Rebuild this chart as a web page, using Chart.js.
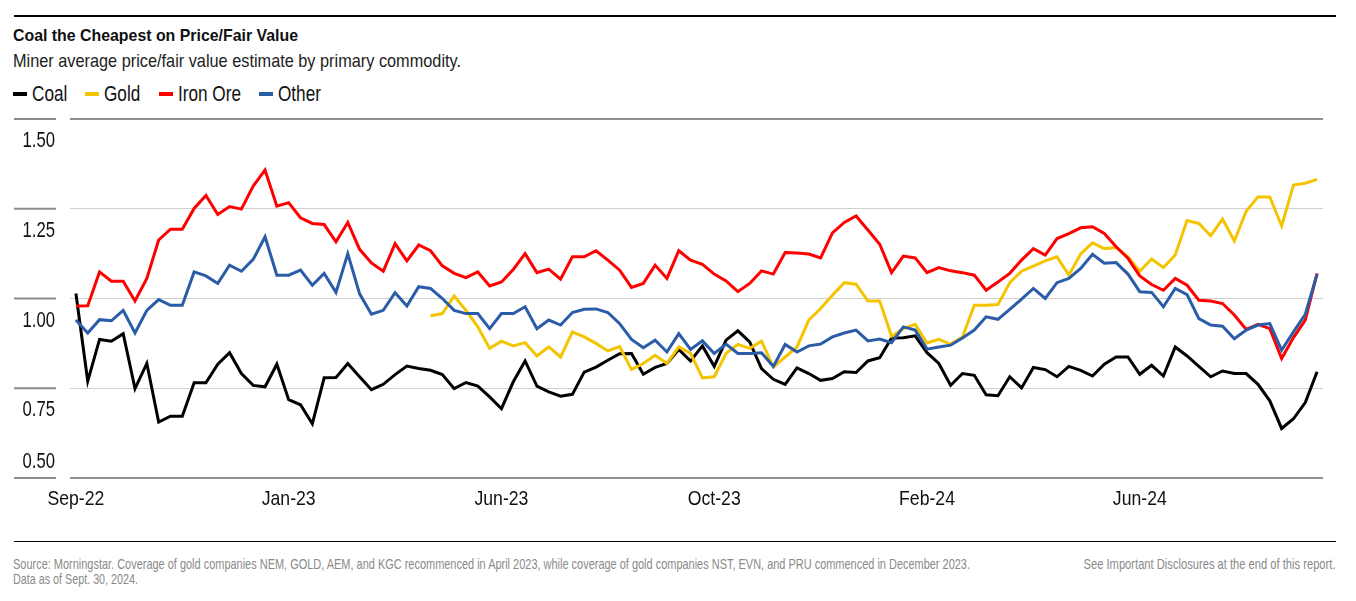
<!DOCTYPE html>
<html>
<head>
<meta charset="utf-8">
<script src="https://cdn.jsdelivr.net/npm/chart.js@4.4.1/dist/chart.umd.min.js"></script>
<style>
  body { margin: 0; background: #fff; width: 1356px; height: 601px; position: relative; overflow: hidden;
         font-family: "Liberation Sans", Arial, sans-serif; color: #111; }
  .rule { position: absolute; left: 14px; width: 1322px; background: #000; }
  .txt { position: absolute; white-space: nowrap; display: inline-block; transform-origin: 0 50%; }
  #title { left: 13px; top: 27px; font-size: 17.3px; line-height: 17.3px; font-weight: bold; }
  #subtitle { left: 13px; top: 53px; font-size: 17.7px; line-height: 17.7px; color: #222; }
  .legendText { top: 83px; font-size: 22px; line-height: 22px; }
  .swatch { position: absolute; top: 92px; width: 14px; height: 4px; }
  #chartBox { position: absolute; left: 0; top: 100px; }
  .foot { font-size: 15px; line-height: 15px; color: #8a8a8a; }
</style>
</head>
<body>
<div class="rule" style="top:15px;height:2px"></div>
<div class="txt" id="title">Coal the Cheapest on Price/Fair Value</div>
<div class="txt" id="subtitle">Miner average price/fair value estimate by primary commodity.</div>
<div id="legend"></div>
<div id="chartBox"><canvas id="chart" width="1356" height="420"></canvas></div>
<div class="rule" style="top:541px;height:1px"></div>
<div class="txt foot" id="foot1" style="left:13px;top:556px">Source: Morningstar. Coverage of gold companies NEM, GOLD, AEM, and KGC recommenced in April 2023, while coverage of gold companies NST, EVN, and PRU commenced in December 2023.</div>
<div class="txt foot" id="foot2" style="left:13px;top:571px">Data as of Sept. 30, 2024.</div>
<div class="txt foot" id="foot3" style="top:556px">See Important Disclosures at the end of this report.</div>

<script>
// weekly readings, Sep-22 .. Sep-24 (106 weeks)
const coal = [
  1.014, 0.770, 0.886, 0.881, 0.902, 0.749, 0.819, 0.656, 0.672, 0.672,
  0.765, 0.765, 0.817, 0.849, 0.791, 0.758, 0.754, 0.817, 0.718, 0.704,
  0.651, 0.779, 0.780, 0.819, 0.782, 0.746, 0.761, 0.788, 0.812, 0.805,
  0.800, 0.788, 0.749, 0.766, 0.756, 0.726, 0.693, 0.768, 0.826, 0.756,
  0.740, 0.728, 0.733, 0.795, 0.809, 0.828, 0.846, 0.847, 0.789, 0.808,
  0.819, 0.858, 0.826, 0.868, 0.811, 0.884, 0.910, 0.879, 0.805, 0.775,
  0.761, 0.807, 0.791, 0.772, 0.777, 0.796, 0.794, 0.826, 0.835, 0.890,
  0.891, 0.896, 0.849, 0.819, 0.758, 0.791, 0.786, 0.732, 0.729, 0.782,
  0.751, 0.808, 0.802, 0.782, 0.811, 0.800, 0.784, 0.817, 0.837, 0.837,
  0.789, 0.814, 0.784, 0.865, 0.840, 0.811, 0.782, 0.798, 0.791, 0.791,
  0.761, 0.715, 0.638, 0.665, 0.710, 0.796
];
const gold = [
  null, null, null, null, null, null, null, null, null, null,
  null, null, null, null, null, null, null, null, null, null,
  null, null, null, null, null, null, null, null, null, null,
  0.952, 0.958, 1.007, 0.967, 0.921, 0.861, 0.881, 0.868, 0.877, 0.840,
  0.865, 0.837, 0.907, 0.893, 0.875, 0.854, 0.866, 0.802, 0.819, 0.842,
  0.819, 0.865, 0.847, 0.779, 0.782, 0.847, 0.872, 0.861, 0.881, 0.809,
  0.837, 0.865, 0.940, 0.972, 1.009, 1.044, 1.040, 0.993, 0.993, 0.895,
  0.916, 0.928, 0.876, 0.886, 0.873, 0.893, 0.981, 0.981, 0.983, 1.044,
  1.076, 1.090, 1.105, 1.116, 1.065, 1.124, 1.155, 1.139, 1.142, 1.116,
  1.076, 1.110, 1.086, 1.121, 1.217, 1.209, 1.175, 1.221, 1.160, 1.243,
  1.283, 1.283, 1.202, 1.316, 1.321, 1.332
];
const ironOre = [
  0.979, 0.980, 1.074, 1.048, 1.048, 0.993, 1.056, 1.163, 1.193, 1.193,
  1.251, 1.287, 1.234, 1.256, 1.249, 1.313, 1.358, 1.257, 1.267, 1.225,
  1.209, 1.206, 1.158, 1.212, 1.137, 1.099, 1.076, 1.153, 1.105, 1.149,
  1.133, 1.091, 1.070, 1.058, 1.074, 1.035, 1.046, 1.081, 1.125, 1.072,
  1.082, 1.054, 1.116, 1.116, 1.133, 1.107, 1.079, 1.031, 1.042, 1.093,
  1.056, 1.133, 1.107, 1.095, 1.068, 1.049, 1.019, 1.042, 1.077, 1.068,
  1.128, 1.127, 1.124, 1.113, 1.183, 1.212, 1.230, 1.191, 1.151, 1.072,
  1.118, 1.113, 1.072, 1.086, 1.077, 1.072, 1.065, 1.023, 1.046, 1.070,
  1.107, 1.139, 1.121, 1.167, 1.181, 1.197, 1.200, 1.181, 1.144, 1.112,
  1.063, 1.039, 1.023, 1.056, 1.037, 0.995, 0.993, 0.986, 0.954, 0.914,
  0.928, 0.916, 0.833, 0.891, 0.940, 1.070
];
const other = [
  0.940, 0.904, 0.941, 0.938, 0.967, 0.904, 0.967, 0.997, 0.981, 0.981,
  1.074, 1.063, 1.042, 1.093, 1.076, 1.109, 1.172, 1.065, 1.065, 1.079,
  1.037, 1.070, 1.017, 1.125, 1.013, 0.956, 0.967, 1.016, 0.979, 1.033,
  1.028, 1.000, 0.967, 0.958, 0.958, 0.916, 0.958, 0.958, 0.977, 0.916,
  0.940, 0.926, 0.961, 0.970, 0.971, 0.961, 0.930, 0.886, 0.863, 0.884,
  0.851, 0.902, 0.858, 0.882, 0.847, 0.873, 0.847, 0.847, 0.849, 0.811,
  0.872, 0.851, 0.868, 0.873, 0.893, 0.904, 0.912, 0.882, 0.887, 0.877,
  0.921, 0.912, 0.859, 0.865, 0.870, 0.890, 0.912, 0.949, 0.942, 0.970,
  0.998, 1.028, 1.000, 1.044, 1.056, 1.084, 1.123, 1.098, 1.100, 1.068,
  1.019, 1.017, 0.977, 1.028, 1.011, 0.944, 0.926, 0.923, 0.888, 0.912,
  0.926, 0.930, 0.856, 0.907, 0.956, 1.068
];

const seriesNames = ["Coal", "Gold", "Iron Ore", "Other"];
const seriesColors = ["#000000", "#f5c400", "#ff0000", "#2a5ca8"];
const xTickLabels = ["Sep-22", "Jan-23", "Jun-23", "Oct-23", "Feb-24", "Jun-24"];
const xTickEvery = 18; // one label every 18 weeks
const yTickValues = [1.50, 1.25, 1.00, 0.75, 0.50];

const weeks = coal.map((_, i) => i);
const allSeries = [coal, gold, ironOre, other];

const FONT = '"Liberation Sans", Arial, sans-serif';

// the original uses a condensed face; squeeze the text horizontally instead
function squeeze(el, factor) {
    el.style.transform = "scaleX(" + factor + ")";
    return el.getBoundingClientRect().width;
}
function fitTo(el, width, origin) {
    el.style.transformOrigin = origin || "0 50%";
    const w = el.getBoundingClientRect().width;
    el.style.transform = "scaleX(" + (width / w) + ")";
}

fitTo(document.getElementById("title"), 285);
fitTo(document.getElementById("subtitle"), 448);
fitTo(document.getElementById("foot1"), 957);
fitTo(document.getElementById("foot2"), 125);
const foot3 = document.getElementById("foot3");
foot3.style.left = (1336 - foot3.getBoundingClientRect().width) + "px";
fitTo(foot3, 252, "100% 50%");

// legend
const legendEl = document.getElementById("legend");
let lx = 13;
seriesNames.forEach((name, k) => {
    const sw = document.createElement("div");
    sw.className = "swatch";
    sw.style.left = lx + "px";
    sw.style.background = seriesColors[k];
    legendEl.appendChild(sw);
    const t = document.createElement("div");
    t.className = "txt legendText";
    t.style.left = (lx + 19) + "px";
    t.textContent = name;
    legendEl.appendChild(t);
    const w = squeeze(t, 0.78);
    lx = lx + 19 + w + 18;
});

function condensedText(ctx, text, x, y, align, factor) {
    ctx.save();
    ctx.translate(x, y);
    ctx.scale(factor, 1);
    ctx.textAlign = align;
    ctx.textBaseline = "alphabetic";
    ctx.fillText(text, 0, 0);
    ctx.restore();
}

// axis text: y labels sit under their gridline (the last one above the axis),
// with a short rule on the left; x labels every 18 weeks
const axisDecor = {
    id: "axisDecor",
    afterDraw(chart) {
        const ctx = chart.ctx;
        const y = chart.scales.y;
        const x = chart.scales.x;
        ctx.save();
        ctx.fillStyle = "#111";
        yTickValues.forEach((v, k) => {
            const py = y.getPixelForValue(v);
            ctx.strokeStyle = "#8c8c8c";
            ctx.lineWidth = 2;
            ctx.beginPath();
            ctx.moveTo(14, py);
            ctx.lineTo(56, py);
            ctx.stroke();
            ctx.font = "22px " + FONT;
            const off = k === yTickValues.length - 1 ? -10 : 28;
            condensedText(ctx, v.toFixed(2), 55, py + off, "right", 0.76);
        });
        ctx.font = "21px " + FONT;
        xTickLabels.forEach((lab, k) => {
            const px = x.getPixelForValue(k * xTickEvery);
            condensedText(ctx, lab, px, chart.chartArea.bottom + 27, "center", 0.84);
        });
        ctx.restore();
    }
};

const ctx = document.getElementById("chart").getContext("2d");
const chart = new Chart(ctx, {
    type: "line",
    data: {
        labels: weeks,
        datasets: allSeries.map((data, k) => ({
            label: seriesNames[k],
            data: data,
            borderColor: seriesColors[k],
            backgroundColor: seriesColors[k],
            borderWidth: 3,
            pointRadius: 0,
            tension: 0,
            fill: false
        })).reverse()
    },
    options: {
        animation: false,
        responsive: false,
        devicePixelRatio: 1,
        layout: { padding: { top: 19, right: 33, left: 0, bottom: 0 } },
        plugins: {
            legend: { display: false },
            tooltip: { enabled: false }
        },
        scales: {
            x: {
                type: "category",
                offset: true,
                grid: { display: false, drawTicks: false },
                border: { display: false },
                afterFit: s => { s.height = 42; },
                ticks: { display: false, autoSkip: false }
            },
            y: {
                min: 0.5,
                max: 1.5,
                afterFit: s => { s.width = 70; },
                ticks: { stepSize: 0.25, display: false },
                border: { display: false },
                grid: {
                    drawTicks: false,
                    color: c => (c.tick && (c.tick.value === 1.5 || c.tick.value === 0.5)) ? "#8f8f8f" : "#d0d0d0",
                    lineWidth: c => (c.tick && (c.tick.value === 1.5 || c.tick.value === 0.5)) ? 2 : 1
                }
            }
        }
    },
    plugins: [axisDecor]
});
</script>
</body>
</html>
